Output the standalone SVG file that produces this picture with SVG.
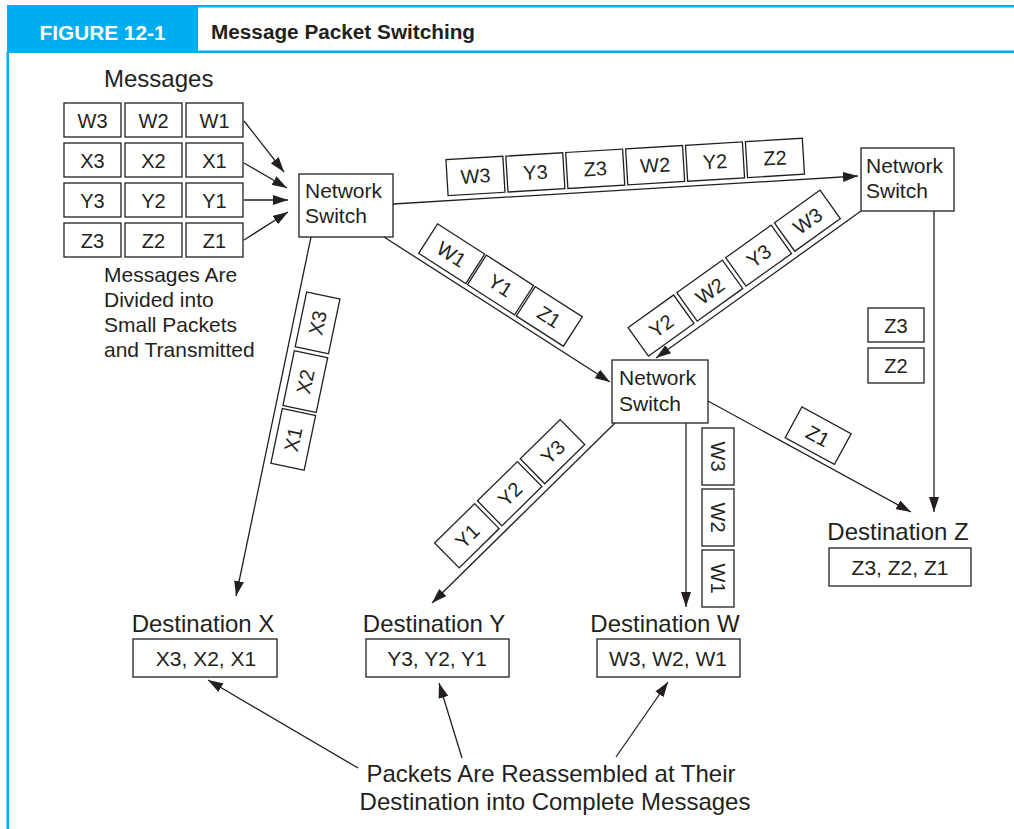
<svg xmlns="http://www.w3.org/2000/svg" width="1014" height="829" viewBox="0 0 1014 829">
<defs>
<marker id="ah" markerUnits="userSpaceOnUse" markerWidth="15" markerHeight="10" refX="15" refY="5" orient="auto">
<path d="M0,0 L15,5 L0,10 z" fill="#231F20"/>
</marker>
<style>
.t{font-family:"Liberation Sans",Arial,sans-serif;fill:#231F20}
.p{font-size:20px;text-anchor:middle}
.b{font-size:21px}
.l{font-size:24px}
.box{fill:#fff;stroke:#231F20;stroke-width:1.3}
.ln{fill:none;stroke:#231F20;stroke-width:1.3}
.ar{fill:none;stroke:#231F20;stroke-width:1.3;marker-end:url(#ah)}
</style>
</defs>
<rect width="1014" height="829" fill="#fff"/>
<g id="header">
<rect x="7" y="5" width="1007" height="2.5" fill="#00AEEF"/>
<rect x="7" y="50.5" width="1007" height="2.5" fill="#00AEEF"/>
<rect x="7" y="5" width="191" height="48" fill="#00AEEF"/>
<rect x="6.5" y="52" width="2.5" height="777" fill="#00AEEF"/>
<text x="39.5" y="40" font-family="'Liberation Sans',Arial,sans-serif" font-weight="bold" font-size="20" fill="#fff" textLength="126" lengthAdjust="spacingAndGlyphs">FIGURE 12-1</text>
<text x="211" y="39" font-family="'Liberation Sans',Arial,sans-serif" font-weight="bold" font-size="20" fill="#231F20" textLength="264" lengthAdjust="spacingAndGlyphs">Message Packet Switching</text>
</g>
<g id="messages">
<text class="t" x="104" y="87" font-size="24">Messages</text>
<rect class="box" x="64" y="103" width="57" height="34"/><text class="t p" x="92.5" y="127.5">W3</text>
<rect class="box" x="125" y="103" width="57" height="34"/><text class="t p" x="153.5" y="127.5">W2</text>
<rect class="box" x="186" y="103" width="57" height="34"/><text class="t p" x="214.5" y="127.5">W1</text>
<rect class="box" x="64" y="143" width="57" height="34"/><text class="t p" x="92.5" y="167.5">X3</text>
<rect class="box" x="125" y="143" width="57" height="34"/><text class="t p" x="153.5" y="167.5">X2</text>
<rect class="box" x="186" y="143" width="57" height="34"/><text class="t p" x="214.5" y="167.5">X1</text>
<rect class="box" x="64" y="183" width="57" height="34"/><text class="t p" x="92.5" y="207.5">Y3</text>
<rect class="box" x="125" y="183" width="57" height="34"/><text class="t p" x="153.5" y="207.5">Y2</text>
<rect class="box" x="186" y="183" width="57" height="34"/><text class="t p" x="214.5" y="207.5">Y1</text>
<rect class="box" x="64" y="223" width="57" height="34"/><text class="t p" x="92.5" y="247.5">Z3</text>
<rect class="box" x="125" y="223" width="57" height="34"/><text class="t p" x="153.5" y="247.5">Z2</text>
<rect class="box" x="186" y="223" width="57" height="34"/><text class="t p" x="214.5" y="247.5">Z1</text>
<text class="t b" x="104" y="282">Messages Are</text>
<text class="t b" x="104" y="307">Divided into</text>
<text class="t b" x="104" y="332">Small Packets</text>
<text class="t b" x="104" y="357">and Transmitted</text>
</g>
<g id="switch1">
<rect class="box" x="299" y="174" width="94" height="63"/>
<text class="t b" x="305" y="198">Network</text>
<text class="t b" x="305" y="223">Switch</text>
</g>
<g id="switch2">
<rect class="box" x="861" y="148" width="93" height="63"/>
<text class="t b" x="866" y="173">Network</text>
<text class="t b" x="866" y="198">Switch</text>
</g>
<g id="switch3">
<rect class="box" x="612" y="360" width="96" height="63"/>
<text class="t b" x="619" y="385">Network</text>
<text class="t b" x="619" y="411">Switch</text>
</g>
<g id="connectors">
<line class="ar" x1="244" y1="121" x2="284" y2="172"/>
<line class="ar" x1="244" y1="163" x2="287" y2="188"/>
<line class="ar" x1="244" y1="200" x2="288" y2="200"/>
<line class="ar" x1="244" y1="240" x2="288" y2="212"/>
<line class="ar" x1="393" y1="204" x2="858" y2="176"/>
<line class="ar" x1="384" y1="237" x2="610" y2="382"/>
<line class="ar" x1="861" y1="211" x2="656" y2="358"/>
<line class="ar" x1="311" y1="237" x2="236" y2="596"/>
<line class="ar" x1="615" y1="423" x2="432" y2="603"/>
<line class="ar" x1="686" y1="423" x2="686" y2="607"/>
<line class="ar" x1="708" y1="401" x2="911" y2="512"/>
<line class="ar" x1="934" y1="211" x2="934" y2="512"/>
<line class="ar" x1="358" y1="768" x2="208" y2="680"/>
<line class="ar" x1="462" y1="758" x2="439" y2="683"/>
<line class="ar" x1="616" y1="757" x2="668" y2="682"/>
</g>
<g id="packets-top" transform="translate(393,204) rotate(-3.45)">
<rect class="box" x="55.5" y="-41" width="57" height="36"/><text class="t p" x="84" y="-16">W3</text>
<rect class="box" x="115.5" y="-41" width="57" height="36"/><text class="t p" x="144" y="-16">Y3</text>
<rect class="box" x="175.5" y="-41" width="57" height="36"/><text class="t p" x="204" y="-16">Z3</text>
<rect class="box" x="235.5" y="-41" width="57" height="36"/><text class="t p" x="264" y="-16">W2</text>
<rect class="box" x="295.5" y="-41" width="57" height="36"/><text class="t p" x="324" y="-16">Y2</text>
<rect class="box" x="355.5" y="-41" width="57" height="36"/><text class="t p" x="384" y="-16">Z2</text>
</g>
<g id="packets-diag1" transform="translate(384,237) rotate(32.7)">
<rect class="box" x="38" y="-40" width="56" height="35"/><text class="t p" x="66" y="-15">W1</text>
<rect class="box" x="96" y="-40" width="56" height="35"/><text class="t p" x="124" y="-15">Y1</text>
<rect class="box" x="154" y="-40" width="56" height="35"/><text class="t p" x="182" y="-15">Z1</text>
</g>
<g id="packets-diag2" transform="translate(656,358) rotate(-35.6)">
<rect class="box" x="-5" y="-41" width="56" height="35"/><text class="t p" x="23" y="-16">Y2</text>
<rect class="box" x="55" y="-41" width="56" height="35"/><text class="t p" x="83" y="-16">W2</text>
<rect class="box" x="115" y="-41" width="56" height="35"/><text class="t p" x="143" y="-16">Y3</text>
<rect class="box" x="175" y="-41" width="56" height="35"/><text class="t p" x="203" y="-16">W3</text>
</g>
<g id="packets-x" transform="translate(236,596) rotate(-78.2)">
<rect class="box" x="137" y="7" width="56" height="34"/><text class="t p" x="165" y="31">X1</text>
<rect class="box" x="196" y="7" width="56" height="34"/><text class="t p" x="224" y="31">X2</text>
<rect class="box" x="256" y="7" width="56" height="34"/><text class="t p" x="284" y="31">X3</text>
</g>
<g id="packets-y" transform="translate(432,603) rotate(-44.5)">
<rect class="box" x="44" y="-41" width="56" height="35"/><text class="t p" x="72" y="-16">Y1</text>
<rect class="box" x="104" y="-41" width="56" height="35"/><text class="t p" x="132" y="-16">Y2</text>
<rect class="box" x="164" y="-41" width="56" height="35"/><text class="t p" x="192" y="-16">Y3</text>
</g>
<g id="packets-z1" transform="translate(709,402) rotate(28.5)">
<rect class="box" x="84" y="-40" width="56" height="35"/><text class="t p" x="112" y="-15">Z1</text>
</g>
<g id="packets-w">
<rect class="box" x="702" y="428" width="32" height="57"/><text class="t p" transform="translate(718,456.5) rotate(90)" y="7">W3</text>
<rect class="box" x="702" y="489" width="32" height="57"/><text class="t p" transform="translate(718,517.5) rotate(90)" y="7">W2</text>
<rect class="box" x="702" y="550" width="32" height="57" stroke-width="2"/><text class="t p" transform="translate(718,578.5) rotate(90)" y="7">W1</text>
</g>
<g id="packets-z">
<rect class="box" x="868" y="308" width="56" height="34"/><text class="t p" x="896" y="332.5">Z3</text>
<rect class="box" x="868" y="348" width="56" height="35"/><text class="t p" x="896" y="373">Z2</text>
</g>
<g id="destX">
<text class="t l" x="203" y="632" text-anchor="middle">Destination X</text>
<rect class="box" x="133" y="639" width="144" height="38"/>
<text class="t b" x="206" y="666" text-anchor="middle">X3, X2, X1</text>
</g>
<g id="destY">
<text class="t l" x="434" y="632" text-anchor="middle">Destination Y</text>
<rect class="box" x="366" y="639" width="143" height="38"/>
<text class="t b" x="437" y="666" text-anchor="middle">Y3, Y2, Y1</text>
</g>
<g id="destW">
<text class="t l" x="665" y="632" text-anchor="middle">Destination W</text>
<rect class="box" x="597" y="639" width="143" height="38"/>
<text class="t b" x="668" y="666" text-anchor="middle">W3, W2, W1</text>
</g>
<g id="destZ">
<text class="t l" x="898" y="540" text-anchor="middle">Destination Z</text>
<rect class="box" x="829" y="548" width="142" height="38"/>
<text class="t b" x="900" y="575" text-anchor="middle">Z3, Z2, Z1</text>
</g>
<g id="caption">
<text class="t l" x="551" y="782" text-anchor="middle">Packets Are Reassembled at Their</text>
<text class="t l" x="555" y="810" text-anchor="middle">Destination into Complete Messages</text>
</g>
</svg>
